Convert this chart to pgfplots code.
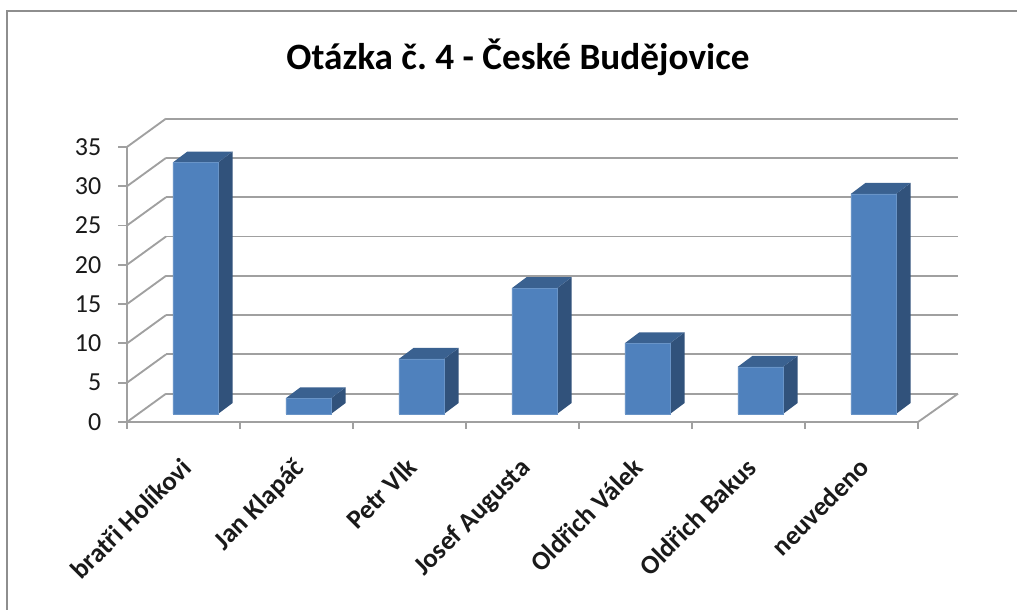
\documentclass[border=0pt]{standalone}
\usepackage{fontspec}
\setmainfont{Carlito}
\usepackage{pgfplots}
\pgfplotsset{compat=1.18}
\usepackage{pgfplotstable}
\frenchspacing

\definecolor{barfront}{HTML}{4F81BD}
\definecolor{barside}{HTML}{31527B}
\definecolor{bartop}{HTML}{3A6190}
\definecolor{gridc}{HTML}{A0A0A0}
\definecolor{framec}{HTML}{8E8E8E}
\definecolor{textc}{HTML}{1A1A1A}

% category position (centre), value
\pgfplotstableread{
x   y
0.5 32
1.5 2
2.5 7
3.5 16
4.5 9
5.5 6
6.5 28
}\bardata

\tikzset{barshift/.style={xshift=8.9pt,yshift=6pt}}

% depth faces of one bar: #1 centre, #2 value
\newcommand{\bardepth}[2]{
  \pgfmathsetmacro{\xl}{#1-0.2}
  \pgfmathsetmacro{\xr}{#1+0.2}
  \pgfmathsetmacro{\xlb}{\xl+0.13}
  \pgfmathsetmacro{\xrb}{\xr+0.13}
  \pgfmathsetmacro{\vb}{#2+1.4}
  \addplot[barshift,fill=barside,draw=none] coordinates {(\xr,0)(\xrb,1.4)(\xrb,\vb)(\xr,#2)};
  \addplot[barshift,fill=bartop,draw=none] coordinates {(\xl,#2)(\xr,#2)(\xrb,\vb)(\xlb,\vb)};
}

\begin{document}
\begin{tikzpicture}
\path[use as bounding box] (0,0) rectangle (762.75pt,457.5pt);
\draw[framec,line width=1.5pt] (5.4pt,0) -- (5.4pt,449.2pt) -- (762.75pt,449.2pt);
\node[font=\fontsize{27.9}{32}\selectfont\bfseries,text=black] at (388.5pt,414.5pt) {Otázka č. 4 - České Budějovice};
\begin{axis}[
    at={(95.25pt,141pt)},
    anchor=south west,
    scale only axis,
    width=623.25pt,
    height=228.4pt,
    xmin=0, xmax=7.354,
    ymin=0, ymax=38.75,
    clip=false,
    axis line style={draw=none},
    xtick={0.5,1.5,2.5,3.5,4.5,5.5,6.5},
    xticklabels={bratři Holíkovi,Jan Klapáč,Petr Vlk,Josef Augusta,Oldřich Válek,Oldřich Bakus,neuvedeno},
    minor xtick={0,1,2,3,4,5,6,7},
    ytick={0,5,10,15,20,25,30,35},
    xtick pos=lower,
    ytick pos=left,
    tick align=outside,
    major tick length=6.75pt,
    minor tick length=5.25pt,
    major x tick style={draw=none},
    minor x tick style={draw=gridc,line width=1.4pt},
    y tick style={draw=gridc,line width=1.4pt},
    /pgf/number format/assume math mode=true,
    y tick label style={font=\fontsize{19.5}{22}\selectfont,text=textc,xshift=-9pt},
    x tick label style={font=\fontsize{20}{23}\selectfont\bfseries,text=textc,xshift=-3pt,yshift=-14pt,rotate=45,anchor=north east},
]
% back wall grid
\addplot[gridc,line width=1.4pt] coordinates {(0.345,3.6)(7.354,3.6)};
\addplot[gridc,line width=1.4pt] coordinates {(0.345,8.6)(7.354,8.6)};
\addplot[gridc,line width=1.4pt] coordinates {(0.345,13.6)(7.354,13.6)};
\addplot[gridc,line width=1.4pt] coordinates {(0.345,18.6)(7.354,18.6)};
\addplot[gridc,line width=1.4pt] coordinates {(0.345,23.6)(7.354,23.6)};
\addplot[gridc,line width=1.4pt] coordinates {(0.345,28.6)(7.354,28.6)};
\addplot[gridc,line width=1.4pt] coordinates {(0.345,33.6)(7.354,33.6)};
\addplot[gridc,line width=1.4pt] coordinates {(0.345,38.6)(7.354,38.6)};
% side wall
\addplot[gridc,line width=1.4pt] coordinates {(0,0)(0.345,3.6)};
\addplot[gridc,line width=1.4pt] coordinates {(0,5)(0.345,8.6)};
\addplot[gridc,line width=1.4pt] coordinates {(0,10)(0.345,13.6)};
\addplot[gridc,line width=1.4pt] coordinates {(0,15)(0.345,18.6)};
\addplot[gridc,line width=1.4pt] coordinates {(0,20)(0.345,23.6)};
\addplot[gridc,line width=1.4pt] coordinates {(0,25)(0.345,28.6)};
\addplot[gridc,line width=1.4pt] coordinates {(0,30)(0.345,33.6)};
\addplot[gridc,line width=1.4pt] coordinates {(0,35)(0.345,38.6)};
% axis lines and floor
\addplot[gridc,line width=1.4pt] coordinates {(0,35)(0,0)(7,0)(7.354,3.6)};
% bars
\bardepth{0.5}{32}
\bardepth{1.5}{2}
\bardepth{2.5}{7}
\bardepth{3.5}{16}
\bardepth{4.5}{9}
\bardepth{5.5}{6}
\bardepth{6.5}{28}
\addplot[ybar,bar width=0.4,barshift,fill=barfront,draw=barfront!85!white,line width=0.4pt] table[x=x,y=y] {\bardata};
\end{axis}
\end{tikzpicture}
\end{document}
